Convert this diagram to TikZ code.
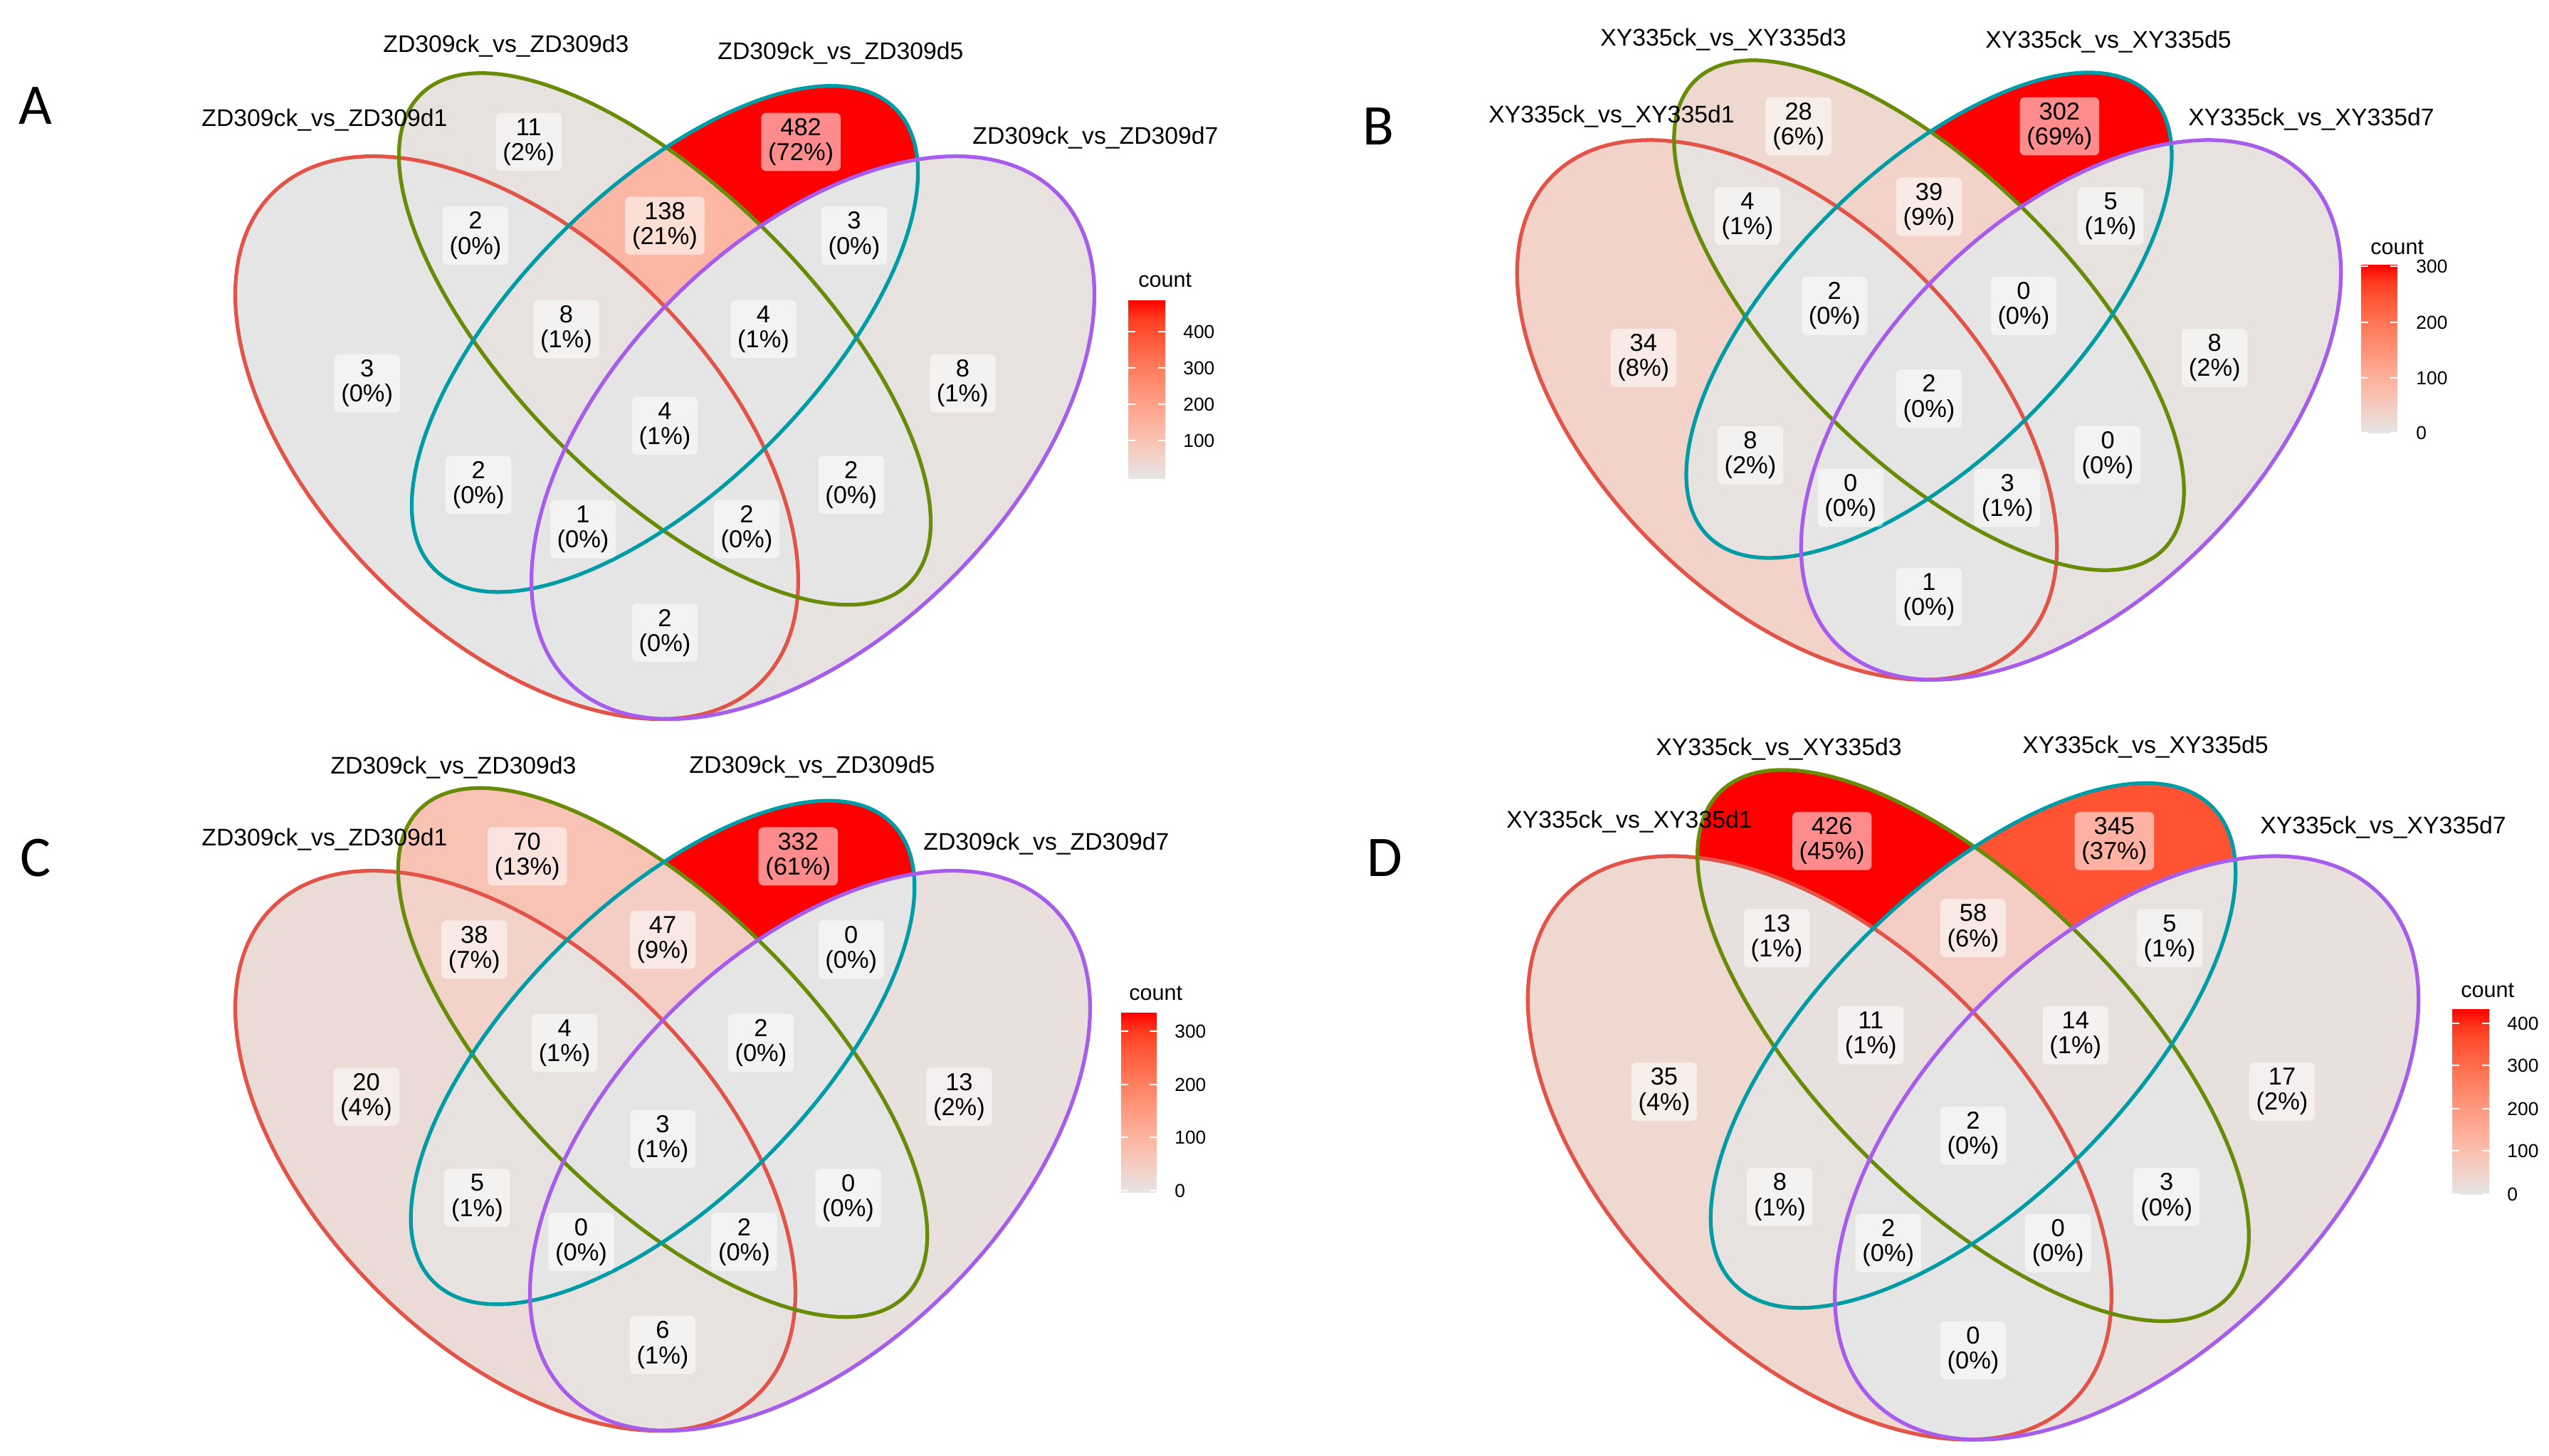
\documentclass[tikz,border=0pt]{standalone}
\usepackage{fontspec}
\setmainfont{Liberation Sans}
\newfontfamily\tagfont{Carlito}

% fill scale, grey90 -> red
\definecolor{g0}{RGB}{229,229,229}
\definecolor{g02}{RGB}{231,226,224}
\definecolor{g03}{RGB}{232,224,222}
\definecolor{g04}{RGB}{233,223,220}
\definecolor{g06}{RGB}{235,219,214}
\definecolor{g09}{RGB}{238,216,208}
\definecolor{g12}{RGB}{242,210,201}
\definecolor{g14}{RGB}{244,206,197}
\definecolor{g21}{RGB}{248,195,181}
\definecolor{g29}{RGB}{252,183,164}
\definecolor{g38}{RGB}{255,167,144}
\definecolor{g50}{RGB}{255,146,118}
\definecolor{g65}{RGB}{255,118,86}
\definecolor{g81}{RGB}{255,83,52}
\definecolor{g90}{RGB}{255,58,31}
\definecolor{g100}{RGB}{255,0,0}
% set outlines
\definecolor{setred}{RGB}{226,84,72}
\definecolor{setgreen}{RGB}{104,140,8}
\definecolor{setteal}{RGB}{0,156,166}
\definecolor{setpurple}{RGB}{168,92,236}

\pgfdeclareverticalshading{countbar}{100bp}{color(0bp)=(g0); color(25bp)=(g0);
  color(26bp)=(g02); color(28bp)=(g06); color(31bp)=(g12); color(35.5bp)=(g21);
  color(39.25bp)=(g29); color(44bp)=(g38); color(50bp)=(g50); color(57.5bp)=(g65);
  color(65.5bp)=(g81); color(70bp)=(g90); color(75bp)=(g100); color(100bp)=(g100)}

\tikzset{
  cnt/.style={fill=white, fill opacity=0.55, text opacity=1, rounded corners=2pt,
    align=center, inner xsep=2.8pt, inner ysep=2.2pt, font=\fontsize{9.8}{10}\selectfont},
  setname/.style={font=\fontsize{9.6}{11}\selectfont},
  paneltag/.style={font=\tagfont\fontsize{23}{26}\selectfont},
  setline/.style={line width=1.5pt},
  tick/.style={white, line width=0.8pt},
  ticklab/.style={anchor=west, font=\fontsize{7.5}{9}\selectfont},
  legtitle/.style={anchor=base west, font=\fontsize{8.7}{10}\selectfont}
}

% sets: 1 = d1, 2 = d3, 3 = d5, 4 = d7
\newcommand\vsetpath[2]{%
  \ifcase#1 \or
    \path[#2, rotate around={135:(-0.15,0)}] (-0.15,0) ellipse (0.35 and 0.20);
  \or
    \path[#2, rotate around={135:(0,0.10)}] (0,0.10) ellipse (0.35 and 0.15);
  \or
    \path[#2, rotate around={45:(0,0.10)}] (0,0.10) ellipse (0.33 and 0.15);
  \or
    \path[#2, rotate around={45:(0.15,0)}] (0.15,0) ellipse (0.35 and 0.20);
  \fi}
\def\vclipdigits#1{\ifx\relax#1\else\vsetpath{#1}{clip}\expandafter\vclipdigits\fi}
\newcommand\vregion[2]{\begin{scope}\expandafter\vclipdigits#2\relax
  \fill[fill=#1] (-0.7,-0.5) rectangle (0.7,0.5);\end{scope}}
\newcommand\voutlines{%
  \vsetpath{1}{draw=setred, setline}
  \vsetpath{2}{draw=setgreen, setline}
  \vsetpath{3}{draw=setteal, setline}
  \vsetpath{4}{draw=setpurple, setline}}
\newcommand\vanchors{%
  \coordinate (p1) at (-0.302,0.055);
  \coordinate (p2) at (-0.138,0.300);
  \coordinate (p3) at (0.138,0.300);
  \coordinate (p4) at (0.302,0.055);
  \coordinate (p12) at (-0.192,0.205);
  \coordinate (p23) at (0,0.215);
  \coordinate (p34) at (0.192,0.205);
  \coordinate (p123) at (-0.100,0.110);
  \coordinate (p234) at (0.100,0.110);
  \coordinate (p1234) at (0,0.012);
  \coordinate (p13) at (-0.189,-0.048);
  \coordinate (p24) at (0.189,-0.048);
  \coordinate (p134) at (-0.083,-0.093);
  \coordinate (p124) at (0.083,-0.093);
  \coordinate (p14) at (0,-0.198);}

\begin{document}
\begin{tikzpicture}
\useasboundingbox (0,0) rectangle (35.81,-20.46);
\fill[white] (0,0) rectangle (35.81,-20.46);

% A
\begin{scope}[shift={(9.34,-6.15)}, scale=13.87]
  \foreach \s/\c in {1/g0, 2/g02, 3/g100, 4/g02, 12/g0, 13/g0, 14/g0, 23/g29, 24/g0, 34/g0,
      123/g02, 124/g0, 134/g0, 234/g0, 1234/g0}
    {\vregion{\c}{\s}}
  \voutlines
  \vanchors
  \foreach \s/\n/\q in {1/3/0, 2/11/2, 3/482/72, 4/8/1, 12/2/0, 13/2/0, 14/2/0, 23/138/21,
      24/2/0, 34/3/0, 123/8/1, 124/2/0, 134/1/0, 234/4/1, 1234/4/1}
    {\node[cnt] (A\s) at (p\s) {\n\\(\q\%)};}
\end{scope}
\node[paneltag] (tagA) at (0.50,-1.49) {A};
\node[setname] (A-d1) at (4.56,-1.69) {ZD309ck\_vs\_ZD309d1};
\node[setname] (A-d3) at (7.11,-0.65) {ZD309ck\_vs\_ZD309d3};
\node[setname] (A-d5) at (11.81,-0.75) {ZD309ck\_vs\_ZD309d5};
\node[setname] (A-d7) at (15.39,-1.94) {ZD309ck\_vs\_ZD309d7};
\shade[shading=countbar] (15.85,-6.72) rectangle (16.37,-4.22);
\foreach \y/\v in {-6.19/100, -5.68/200, -5.17/300, -4.66/400} {
  \draw[tick] (15.85,\y) -- (15.95,\y);
  \draw[tick] (16.27,\y) -- (16.37,\y);
  \node[ticklab] (Aleg\v) at (16.50,\y) {\v};}
\node[legtitle] (Acount) at (15.87,-4.03) {count};

% B
\begin{scope}[shift={(27.10,-5.76)}, scale=13.30]
  \foreach \s/\c in {1/g12, 2/g09, 3/g100, 4/g02, 12/g02, 13/g02, 14/g0, 23/g12, 24/g0, 34/g02,
      123/g0, 124/g0, 134/g0, 234/g0, 1234/g0}
    {\vregion{\c}{\s}}
  \voutlines
  \vanchors
  \foreach \s/\n/\q in {1/34/8, 2/28/6, 3/302/69, 4/8/2, 12/4/1, 13/8/2, 14/1/0, 23/39/9,
      24/0/0, 34/5/1, 123/2/0, 124/3/1, 134/0/0, 234/0/0, 1234/2/0}
    {\node[cnt] (B\s) at (p\s) {\n\\(\q\%)};}
\end{scope}
\node[paneltag] (tagB) at (19.36,-1.78) {B};
\node[setname] (B-d1) at (22.64,-1.64) {XY335ck\_vs\_XY335d1};
\node[setname] (B-d3) at (24.21,-0.56) {XY335ck\_vs\_XY335d3};
\node[setname] (B-d5) at (29.62,-0.59) {XY335ck\_vs\_XY335d5};
\node[setname] (B-d7) at (32.47,-1.68) {XY335ck\_vs\_XY335d7};
\shade[shading=countbar] (33.17,-6.08) rectangle (33.68,-3.72);
\foreach \y/\v in {-6.08/0, -5.31/100, -4.53/200, -3.74/300} {
  \draw[tick] (33.17,\y) -- (33.27,\y);
  \draw[tick] (33.58,\y) -- (33.68,\y);
  \node[ticklab] (Bleg\v) at (33.82,\y) {\v};}
\node[legtitle] (Bcount) at (33.18,-3.57) {count};

% C
\begin{scope}[shift={(9.31,-16.17)}, scale=13.80]
  \foreach \s/\c in {1/g06, 2/g21, 3/g100, 4/g04, 12/g12, 13/g02, 14/g02, 23/g14, 24/g0, 34/g0,
      123/g02, 124/g0, 134/g0, 234/g0, 1234/g0}
    {\vregion{\c}{\s}}
  \voutlines
  \vanchors
  \foreach \s/\n/\q in {1/20/4, 2/70/13, 3/332/61, 4/13/2, 12/38/7, 13/5/1, 14/6/1, 23/47/9,
      24/0/0, 34/0/0, 123/4/1, 124/2/0, 134/0/0, 234/2/0, 1234/3/1}
    {\node[cnt] (C\s) at (p\s) {\n\\(\q\%)};}
\end{scope}
\node[paneltag] (tagC) at (0.50,-12.06) {C};
\node[setname] (C-d1) at (4.56,-11.80) {ZD309ck\_vs\_ZD309d1};
\node[setname] (C-d3) at (6.37,-10.79) {ZD309ck\_vs\_ZD309d3};
\node[setname] (C-d5) at (11.41,-10.78) {ZD309ck\_vs\_ZD309d5};
\node[setname] (C-d7) at (14.70,-11.86) {ZD309ck\_vs\_ZD309d7};
\shade[shading=countbar] (15.75,-16.75) rectangle (16.25,-14.23);
\foreach \y/\v in {-16.73/0, -15.98/100, -15.24/200, -14.49/300} {
  \draw[tick] (15.75,\y) -- (15.85,\y);
  \draw[tick] (16.15,\y) -- (16.25,\y);
  \node[ticklab] (Cleg\v) at (16.38,\y) {\v};}
\node[legtitle] (Ccount) at (15.74,-14.05) {count};

% D
\begin{scope}[shift={(27.72,-16.13)}, scale=14.38]
  \foreach \s/\c in {1/g09, 2/g100, 3/g81, 4/g04, 12/g03, 13/g02, 14/g0, 23/g14, 24/g0, 34/g02,
      123/g03, 124/g0, 134/g0, 234/g03, 1234/g0}
    {\vregion{\c}{\s}}
  \voutlines
  \vanchors
  \foreach \s/\n/\q in {1/35/4, 2/426/45, 3/345/37, 4/17/2, 12/13/1, 13/8/1, 14/0/0, 23/58/6,
      24/3/0, 34/5/1, 123/11/1, 124/0/0, 134/2/0, 234/14/1, 1234/2/0}
    {\node[cnt] (D\s) at (p\s) {\n\\(\q\%)};}
\end{scope}
\node[paneltag] (tagD) at (19.45,-12.06) {D};
\node[setname] (D-d1) at (22.89,-11.55) {XY335ck\_vs\_XY335d1};
\node[setname] (D-d3) at (24.99,-10.53) {XY335ck\_vs\_XY335d3};
\node[setname] (D-d5) at (30.14,-10.50) {XY335ck\_vs\_XY335d5};
\node[setname] (D-d7) at (33.48,-11.63) {XY335ck\_vs\_XY335d7};
\shade[shading=countbar] (34.45,-16.78) rectangle (34.97,-14.18);
\foreach \y/\v in {-16.78/0, -16.17/100, -15.58/200, -14.97/300, -14.38/400} {
  \draw[tick] (34.45,\y) -- (34.55,\y);
  \draw[tick] (34.87,\y) -- (34.97,\y);
  \node[ticklab] (Dleg\v) at (35.10,\y) {\v};}
\node[legtitle] (Dcount) at (34.45,-14.01) {count};
\end{tikzpicture}
\end{document}
